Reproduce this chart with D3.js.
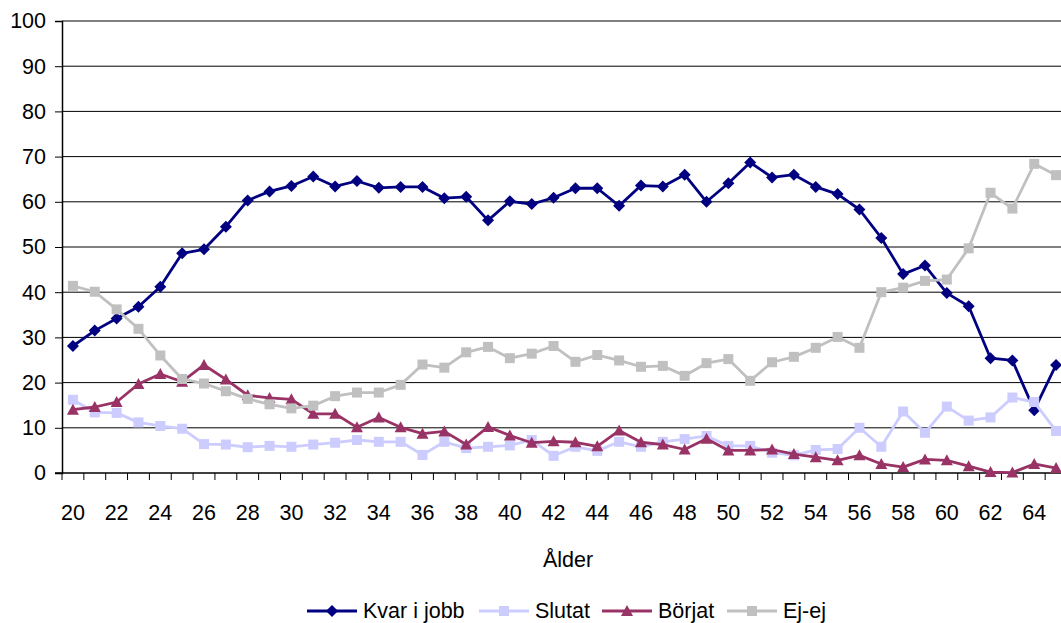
<!DOCTYPE html>
<html>
<head>
<meta charset="utf-8">
<script src="https://cdn.jsdelivr.net/npm/d3@7"></script>
<style>
  body { margin: 0; background: #fff; }
  svg text { font-family: "Liberation Sans", Arial, sans-serif; fill: #000; }
</style>
</head>
<body>
<div class="chart"></div>
<script>
const ages = d3.range(20, 66);
const yTicks = [0, 10, 20, 30, 40, 50, 60, 70, 80, 90, 100];
const xLabels = d3.range(20, 65, 2);

const kvar = [28.1, 31.5, 34.2, 36.8, 41.2, 48.6, 49.5, 54.5, 60.3, 62.3, 63.5, 65.6, 63.4, 64.6, 63.1, 63.3,
  63.3, 60.8, 61.1, 55.9, 60.1, 59.5, 60.9, 63.0, 63.0, 59.1, 63.6, 63.4, 66.0, 60.0, 64.1, 68.7,
  65.4, 66.0, 63.3, 61.7, 58.3, 52.0, 44.0, 45.9, 39.8, 36.9, 25.4, 24.9, 13.9, 23.9];
const slutat = [16.2, 13.4, 13.3, 11.2, 10.4, 9.8, 6.4, 6.3, 5.7, 6.0, 5.8, 6.3, 6.7, 7.3, 6.9, 6.9,
  4.0, 6.9, 5.5, 5.8, 6.1, 7.3, 3.8, 5.8, 4.9, 6.9, 5.8, 6.9, 7.5, 8.2, 6.0, 6.0,
  4.5, 3.9, 5.1, 5.3, 10.0, 5.8, 13.6, 8.9, 14.7, 11.6, 12.3, 16.7, 15.7, 9.3];
const borjat = [14.0, 14.6, 15.7, 19.7, 21.9, 20.2, 23.9, 20.7, 17.2, 16.6, 16.3, 13.1, 13.1, 10.1, 12.3, 10.1,
  8.7, 9.2, 6.3, 10.2, 8.3, 6.7, 7.0, 6.8, 5.9, 9.4, 6.8, 6.3, 5.2, 7.6, 5.0, 5.0,
  5.2, 4.2, 3.5, 2.8, 3.9, 2.0, 1.3, 3.0, 2.8, 1.5, 0.2, 0.1, 2.0, 1.1];
const ejej = [41.4, 40.1, 36.2, 31.9, 26.0, 20.8, 19.8, 18.1, 16.4, 15.2, 14.3, 14.9, 17.0, 17.8, 17.8, 19.5,
  24.0, 23.3, 26.7, 27.9, 25.4, 26.4, 28.1, 24.6, 26.1, 24.9, 23.5, 23.7, 21.5, 24.3, 25.2, 20.4,
  24.5, 25.7, 27.7, 30.1, 27.7, 40.0, 41.0, 42.5, 42.8, 49.7, 62.0, 58.5, 68.4, 65.9];

const series = [
  {name: 'Kvar i jobb', values: kvar, color: '#000080', shape: 'diamond'},
  {name: 'Slutat', values: slutat, color: '#CCCCFF', shape: 'square'},
  {name: 'Börjat', values: borjat, color: '#993366', shape: 'triangle'},
  {name: 'Ej-ej', values: ejej, color: '#C0C0C0', shape: 'square'}
];

const W = 1061, H = 623;
const margin = {left: 62, right: 1067, top: 21, bottom: 473};
const fs = '21.5px';

const svg = d3.select('.chart').append('svg')
  .attr('width', W)
  .attr('height', H);

const x = d3.scaleBand().domain(ages).range([margin.left, margin.right]);
const y = d3.scaleLinear().domain([0, 100]).range([margin.bottom, margin.top]);

// gridlines
svg.append('g')
  .selectAll('line')
  .data(yTicks.filter(d => d > 0 && d < 100))
  .enter()
  .append('line')
  .attr('x1', margin.left).attr('x2', margin.right)
  .attr('y1', d => y(d)).attr('y2', d => y(d))
  .attr('stroke', '#000').attr('stroke-width', 1);

// plot border top
svg.append('line')
  .attr('x1', margin.left).attr('x2', margin.right)
  .attr('y1', y(100)).attr('y2', y(100))
  .attr('stroke', '#808080').attr('stroke-width', 2);

// y axis
const yAxis = d3.axisLeft(y).tickValues(yTicks).tickSize(7).tickPadding(9);
const gy = svg.append('g')
  .attr('transform', `translate(${margin.left},0)`)
  .call(yAxis);
gy.select('.domain').attr('stroke', '#000').attr('stroke-width', 1.5);
gy.selectAll('.tick line').attr('stroke', '#000');
gy.selectAll('.tick text').style('font-size', fs);

// x axis: ticks at band boundaries, labels every other age
const gx = svg.append('g')
  .attr('transform', `translate(0,${margin.bottom})`);
gx.append('line')
  .attr('x1', margin.left - 7).attr('x2', margin.right)
  .attr('stroke', '#000').attr('stroke-width', 1.5);
gx.selectAll('.tk')
  .data(ages)
  .enter()
  .append('line')
  .attr('x1', d => x(d)).attr('x2', d => x(d))
  .attr('y1', 0).attr('y2', 7)
  .attr('stroke', '#000');
gx.selectAll('.lbl')
  .data(xLabels)
  .enter()
  .append('text')
  .attr('x', d => x(d) + x.bandwidth() / 2)
  .attr('y', 47)
  .attr('text-anchor', 'middle')
  .style('font-size', fs)
  .text(d => d);

svg.append('text')
  .attr('x', 568)
  .attr('y', 567)
  .attr('text-anchor', 'middle')
  .style('font-size', fs)
  .text('Ålder');

const cx = (d, i) => x(ages[i]) + x.bandwidth() / 2;

function marker(g, shape, color) {
  if (shape === 'diamond') {
    g.append('path').attr('d', 'M0,-6L6,0L0,6L-6,0Z').attr('fill', color);
  } else if (shape === 'square') {
    g.append('rect').attr('x', -5).attr('y', -5).attr('width', 10).attr('height', 10).attr('fill', color);
  } else {
    g.append('path').attr('d', 'M0,-6L6,5L-6,5Z').attr('fill', color);
  }
}

const line = d3.line()
  .x(cx)
  .y(d => y(d));

series.forEach(s => {
  const g = svg.append('g');
  g.append('path')
    .datum(s.values)
    .attr('d', line)
    .attr('fill', 'none')
    .attr('stroke', s.color)
    .attr('stroke-width', 2.8)
    .attr('stroke-linejoin', 'round');
  g.selectAll('.m')
    .data(s.values)
    .enter()
    .append('g')
    .attr('transform', (d, i) => `translate(${cx(d, i)},${y(d)})`)
    .each(function() { marker(d3.select(this), s.shape, s.color); });
});

// legend
const legendX = [307, 479, 602, 727];
const legend = svg.selectAll('.legend')
  .data(series)
  .enter()
  .append('g')
  .attr('class', 'legend')
  .attr('transform', (d, i) => `translate(${legendX[i]},611)`);
legend.append('line')
  .attr('x1', 0).attr('x2', 50)
  .attr('stroke', d => d.color)
  .attr('stroke-width', 2.8);
legend.each(function(d) {
  const g = d3.select(this).append('g').attr('transform', 'translate(25,0)');
  marker(g, d.shape, d.color);
});
legend.append('text')
  .attr('x', 56)
  .attr('y', 7)
  .style('font-size', fs)
  .text(d => d.name);
</script>
</body>
</html>
